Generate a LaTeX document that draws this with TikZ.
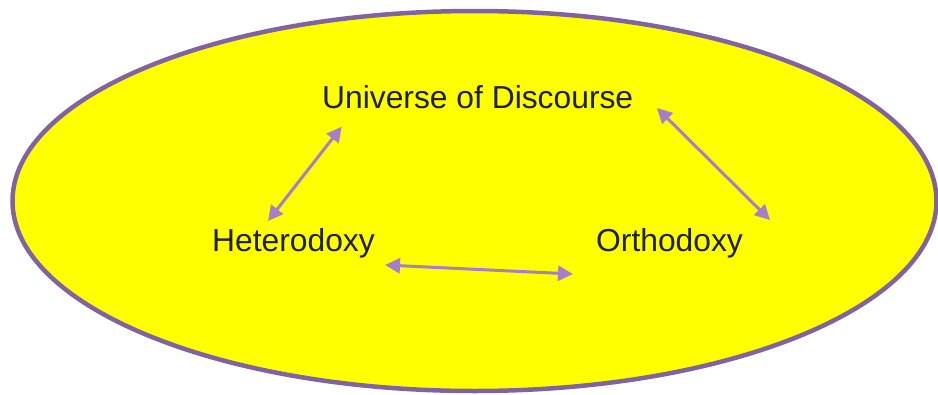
\documentclass[tikz,border=0pt]{standalone}
\usepackage{fontspec}
\setmainfont{Liberation Sans}
\usetikzlibrary{arrows.meta}
\definecolor{rim}{HTML}{8064A2}
\definecolor{fillyel}{HTML}{FFFF00}
\definecolor{arrowpurple}{HTML}{A67FCB}
\definecolor{txt}{HTML}{1F1F1F}
\begin{document}
\begin{tikzpicture}[x=1pt,y=-1pt,
  lbl/.style={anchor=base west,inner sep=0pt,font=\fontsize{31.8}{36}\selectfont,text=txt},
  link/.style={draw=arrowpurple,line width=3pt,{Triangle[length=15pt,width=15pt]}-{Triangle[length=15pt,width=15pt]}}]
\useasboundingbox (0,0) rectangle (938,394);
\draw[rim,fill=fillyel,line width=4.5pt] (474.5,201) ellipse [x radius=462,y radius=190];
\node[lbl] (uod) at (322,108.3) {Universe of Discourse};
\node[lbl] (het) at (212,251.7) {Heterodoxy};
\node[lbl] (ort) at (596,251.7) {Orthodoxy};
\coordinate (u1) at (341.7,126.7);
\coordinate (h1) at (268,221);
\coordinate (h2) at (385,265);
\coordinate (o2) at (573,274);
\coordinate (u3) at (657,108);
\coordinate (o3) at (770,220);
\draw[link] (u1) -- (h1);
\draw[link] (h2) -- (o2);
\draw[link] (u3) -- (o3);
\end{tikzpicture}
\end{document}
